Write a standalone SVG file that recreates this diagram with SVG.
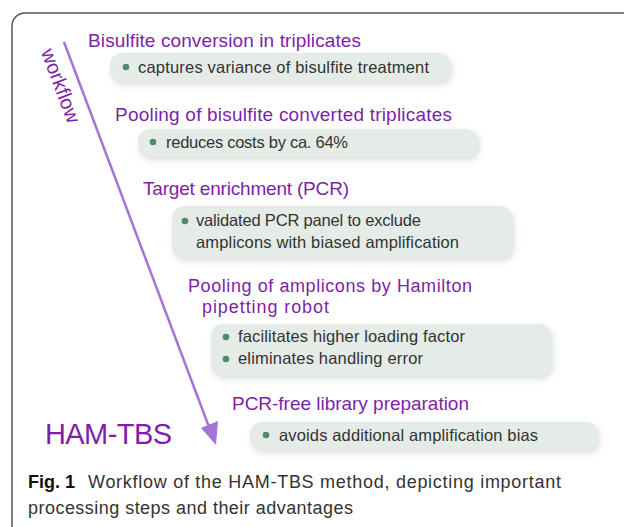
<svg xmlns="http://www.w3.org/2000/svg" width="624" height="527" viewBox="0 0 624 527">
<style>
.h{font-family:"Liberation Sans",Arial,sans-serif;font-size:19px;fill:#7e1fa8}
.h2{font-family:"Liberation Sans",Arial,sans-serif;font-size:18px;fill:#7e1fa8}
.t{font-family:"Liberation Sans",Arial,sans-serif;font-size:16.5px;fill:#333}
.box{fill:#e5ebe7;filter:url(#sh)}
.dot{fill:#4f8a70}
.cap{font-family:"Liberation Sans",Arial,sans-serif;font-size:18px;fill:#333}
</style>
<defs>
<filter id="sh" x="-10%" y="-30%" width="120%" height="170%">
<feDropShadow dx="2" dy="3" stdDeviation="3" flood-color="#b8bdb9" flood-opacity="0.5"/>
</filter>
</defs>
<rect x="12" y="13" width="640" height="530" rx="13" fill="#fff" stroke="#555" stroke-width="1.5"/>
<g id="connectors">
<line x1="64" y1="42" x2="209" y2="427" stroke="#a574d6" stroke-width="2.5"/>
<polygon points="216,445 201,428 218,421" fill="#a574d6"/>
</g>
<g id="workflow-label">
<text transform="translate(60,86) rotate(69.5)" x="0" y="6" text-anchor="middle" style="font-family:'Liberation Sans',Arial,sans-serif;font-size:20px;fill:#7e1fa8">workflow</text>
</g>
<g id="step1">
<text class="h" x="88" y="47" textLength="273">Bisulfite conversion in triplicates</text>
<rect class="box" x="110" y="53" width="340" height="29" rx="12"/>
<circle class="dot" cx="126" cy="67" r="3.3"/>
<text class="t" x="138" y="73" textLength="291">captures variance of bisulfite treatment</text>
</g>
<g id="step2">
<text class="h" x="115" y="121" textLength="337">Pooling of bisulfite converted triplicates</text>
<rect class="box" x="138" y="129" width="340" height="28" rx="12"/>
<circle class="dot" cx="153" cy="142" r="3.3"/>
<text class="t" x="166" y="148" textLength="182">reduces costs by ca. 64%</text>
</g>
<g id="step3">
<text class="h" x="143" y="195" textLength="206">Target enrichment (PCR)</text>
<rect class="box" x="172" y="206" width="340" height="52" rx="12"/>
<circle class="dot" cx="185" cy="221" r="3.3"/>
<text class="t" x="196" y="226" textLength="225">validated PCR panel to exclude</text>
<text class="t" x="196" y="248" textLength="263">amplicons with biased amplification</text>
</g>
<g id="step4">
<text class="h2" x="188" y="292" textLength="284">Pooling of amplicons by Hamilton</text>
<text class="h2" x="202" y="313" textLength="127">pipetting robot</text>
<rect class="box" x="211" y="324" width="340" height="52" rx="12"/>
<circle class="dot" cx="226" cy="337" r="3.3"/>
<text class="t" x="238" y="342" textLength="227">facilitates higher loading factor</text>
<circle class="dot" cx="226" cy="359" r="3.3"/>
<text class="t" x="238" y="364" textLength="185">eliminates handling error</text>
</g>
<g id="step5">
<text class="h" x="232" y="410" textLength="237">PCR-free library preparation</text>
<rect class="box" x="250" y="422" width="348" height="28" rx="12"/>
<circle class="dot" cx="266" cy="435" r="3.3"/>
<text class="t" x="279" y="441" textLength="259">avoids additional amplification bias</text>
</g>
<g id="title">
<text x="45" y="444" style="font-family:'Liberation Sans',Arial,sans-serif;font-size:29px;fill:#7e1fa8" textLength="127">HAM-TBS</text>
</g>
<g id="caption">
<text x="28" y="488" style="font-family:'Liberation Sans',Arial,sans-serif;font-size:18px;font-weight:bold;fill:#111">Fig. 1</text>
<text class="cap" x="88" y="488" textLength="473">Workflow of the HAM-TBS method, depicting important</text>
<text class="cap" x="28" y="514" textLength="325">processing steps and their advantages</text>
</g>
</svg>
